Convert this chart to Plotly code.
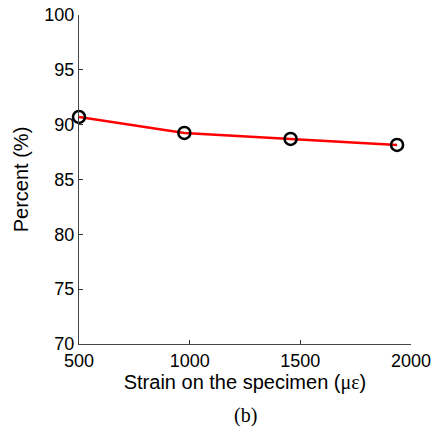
import plotly.graph_objects as go

strain = [500, 976, 1456, 1937]
percent = [90.7, 89.25, 88.7, 88.15]
x_ticks = [500, 1000, 1500, 2000]
y_ticks = [70, 75, 80, 85, 90, 95, 100]

fig = go.Figure()
fig.add_trace(go.Scatter(
    x=strain, y=percent, mode="lines",
    line=dict(color="#ff0000", width=2.5), showlegend=False))
fig.add_trace(go.Scatter(
    x=strain, y=percent, mode="markers",
    marker=dict(symbol="circle-open", size=12, color="black", line=dict(width=2.5, color="black")),
    showlegend=False, cliponaxis=False))

fig.update_layout(
    width=432, height=442,
    margin=dict(l=79, r=21, t=15, b=98),
    paper_bgcolor="white", plot_bgcolor="white",
    font=dict(family="Liberation Sans, Arial, sans-serif", size=18, color="black"),
    xaxis=dict(range=[500, 2000], tickvals=x_ticks, ticks="inside", ticklen=4,
               tickcolor="#333", showline=True, linecolor="#444", linewidth=1,
               showgrid=False, zeroline=False, automargin=False,
               ticklabeloverflow="allow", tickfont=dict(size=18),
               title=dict(text="Strain on the specimen (<span style='font-family:Liberation Serif'>με</span>)",
                          font=dict(size=20), standoff=4)),
    yaxis=dict(range=[70, 100], tickvals=y_ticks, ticks="inside", ticklen=4,
               tickcolor="#333", showline=True, linecolor="#444", linewidth=1,
               showgrid=False, zeroline=False, automargin=False,
               ticklabeloverflow="allow", tickfont=dict(size=18),
               title=dict(text="Percent (%)", font=dict(size=20), standoff=10)),
    annotations=[dict(text="(b)", xref="paper", yref="paper", x=0.5, y=-0.175,
                      xanchor="center", yanchor="top", showarrow=False,
                      font=dict(family="Liberation Serif, Times New Roman, serif", size=20))],
)
fig.write_html("out.html", config={"displayModeBar": False},
               post_script="document.body.style.margin='0';document.body.style.overflow='hidden';")
